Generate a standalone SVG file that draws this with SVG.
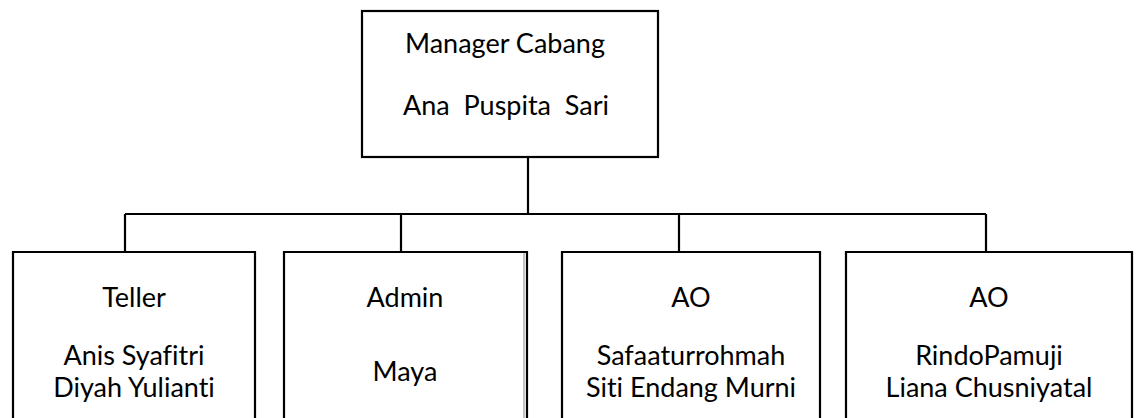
<svg xmlns="http://www.w3.org/2000/svg" width="1137" height="418" viewBox="0 0 1137 418">
<style>
.box{fill:#fff;stroke:#000;stroke-width:2.2}
.ln{fill:none;stroke:#000;stroke-width:2.2}
text{font-family:Lato,"Open Sans","Liberation Sans",sans-serif;font-size:27px;fill:#000;text-anchor:middle;white-space:pre;font-variant-ligatures:none}
</style>
<rect width="1137" height="418" fill="#fff"/>
<g id="connectors">
<path class="ln" d="M528 157V214M125 214H986M125 214V252M401 214V252M679 214V252M986 214V252"/>
</g>
<g id="manager">
<rect class="box" x="362" y="11" width="296" height="146"/>
<text x="505" y="53">Manager Cabang</text>
<text x="506" y="115" xml:space="preserve">Ana  Puspita  Sari</text>
</g>
<g id="teller">
<path class="ln" d="M13 420V252H255V420"/>
<text x="134" y="307">Teller</text>
<text x="134" y="365">Anis Syafitri</text>
<text x="134" y="397">Diyah Yulianti</text>
</g>
<g id="admin">
<path class="ln" d="M284 420V252H527V420"/>
<line x1="524" y1="253" x2="524" y2="420" stroke="#888" stroke-width="1"/>
<text x="405" y="307">Admin</text>
<text x="405" y="381">Maya</text>
</g>
<g id="ao1">
<path class="ln" d="M562 420V252H820V420"/>
<text x="691" y="307">AO</text>
<text x="691" y="365">Safaaturrohmah</text>
<text x="691" y="397">Siti Endang Murni</text>
</g>
<g id="ao2">
<path class="ln" d="M846 420V252H1132V420"/>
<text x="989" y="307">AO</text>
<text x="989" y="365">RindoPamuji</text>
<text x="989" y="397">Liana Chusniyatal</text>
</g>
</svg>
